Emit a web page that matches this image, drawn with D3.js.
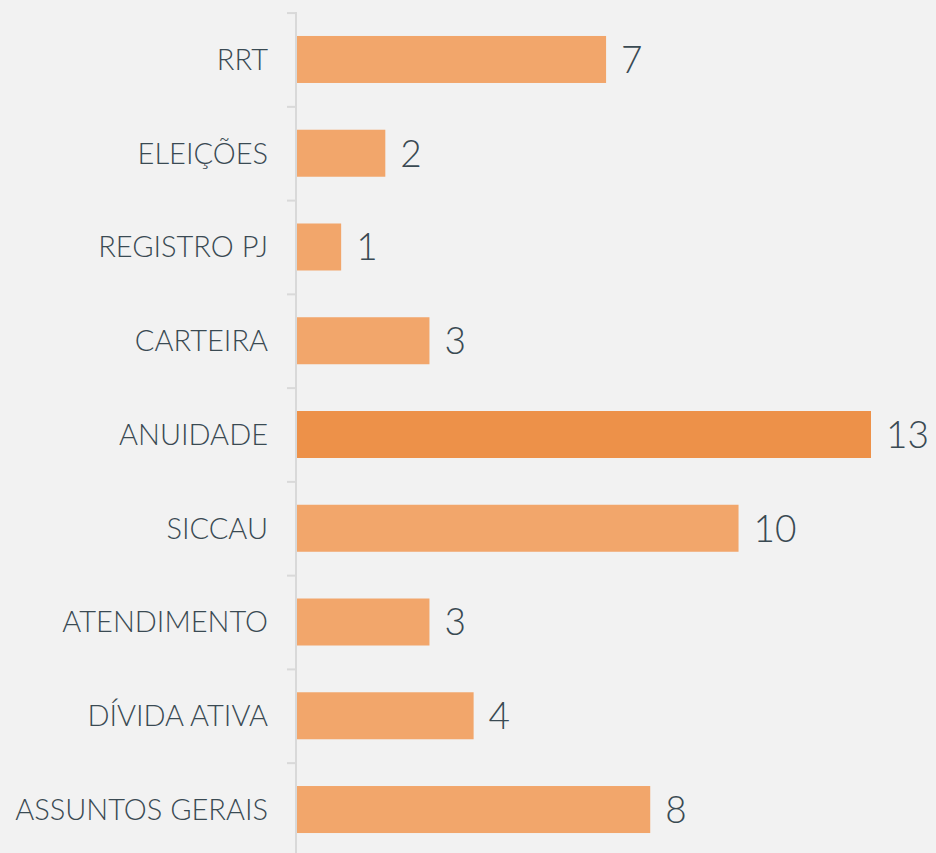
<!DOCTYPE html>
<html><head><meta charset="utf-8">
<script src="https://cdn.jsdelivr.net/npm/d3@7"></script>
<style>body{margin:0;background:#f2f2f2;}svg{display:block;}</style>
</head><body>
<script>
const categories = ["RRT","ELEIÇÕES","REGISTRO PJ","CARTEIRA","ANUIDADE","SICCAU","ATENDIMENTO","DÍVIDA ATIVA","ASSUNTOS GERAIS"];
const values = [7,2,1,3,13,10,3,4,8];
const highlight = "ANUIDADE";

const W = 936, H = 853;
const svg = d3.select("body").append("svg").attr("width", W).attr("height", H);
svg.append("rect").attr("width", W).attr("height", H).attr("fill", "#f2f2f2");

const y = d3.scaleBand().domain(categories).range([12.6, 856.4]).padding(0);
const x = d3.scaleLinear().domain([0, 13]).range([297, 871]);

const boundaries = categories.map(c => y(c));
svg.append("line").attr("x1", 296).attr("x2", 296).attr("y1", 12).attr("y2", H)
  .attr("stroke", "#d9d9d9").attr("stroke-width", 2);
svg.selectAll(".tk").data(boundaries).enter().append("line")
  .attr("x1", 287).attr("x2", 296).attr("y1", d => d + 0.5).attr("y2", d => d + 0.5)
  .attr("stroke", "#d9d9d9").attr("stroke-width", 2);

const bh = 47;
const data = categories.map((c, i) => ({c, v: values[i]}));

svg.selectAll(".bar").data(data).enter().append("rect")
  .attr("x", x(0)).attr("y", d => y(d.c) + (y.bandwidth() - bh) / 2)
  .attr("width", d => x(d.v) - x(0)).attr("height", bh)
  .attr("fill", d => d.c === highlight ? "#ed9149" : "#f2a66b");

svg.selectAll(".cat").data(data).enter().append("text")
  .attr("x", 268).attr("y", d => y(d.c) + y.bandwidth() / 2)
  .attr("dy", "0.36em").attr("text-anchor", "end")
  .attr("font-family", "Lato, 'Noto Sans', sans-serif").attr("font-size", 29).attr("font-weight", 300)
  .attr("fill", "#3a4a53").text(d => d.c);

svg.selectAll(".val").data(data).enter().append("text")
  .attr("x", d => x(d.v) + 15).attr("y", d => y(d.c) + y.bandwidth() / 2)
  .attr("dy", "0.36em")
  .attr("font-family", "Lato, 'Noto Sans', sans-serif").attr("font-size", 37).attr("font-weight", 300)
  .attr("fill", "#3a4a53").text(d => d.v);
</script>
</body></html>
